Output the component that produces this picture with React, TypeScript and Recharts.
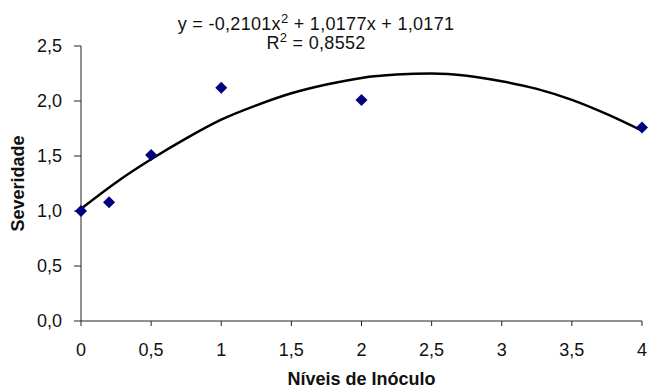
import React from 'react';
import { ComposedChart, Line, Scatter, XAxis, YAxis } from 'recharts';

const levels = [0, 0.2, 0.5, 1, 2, 4];
const severity = [1.0, 1.08, 1.51, 2.12, 2.01, 1.76];

// fitted curve, values
const curveX = [0, 0.25, 0.5, 0.75, 1, 1.25, 1.5, 1.75, 2, 2.25, 2.5, 2.75, 3, 3.25, 3.5, 3.75, 4];
const curveY = [1.02, 1.26, 1.47, 1.66, 1.83, 1.96, 2.07, 2.15, 2.21, 2.24, 2.25, 2.23, 2.18, 2.11, 2.01, 1.88, 1.73];

const xTicks = [0, 0.5, 1, 1.5, 2, 2.5, 3, 3.5, 4];
const yTicks = [0, 0.5, 1, 1.5, 2, 2.5];

const equationText = 'y = -0,2101x';
const equationRest = ' + 1,0177x + 1,0171';
const r2Value = '0,8552';

const FONT = '"Liberation Sans", Arial, sans-serif';

const points = levels.map((x, i) => ({ x, y: severity[i] }));
const curve = curveX.map((x, i) => ({ x, y: curveY[i] }));

const comma = (v: number) => String(v).replace('.', ',');

const Diamond = (props: any) => {
  const { cx, cy } = props;
  const r = 6;
  return (
    <polygon
      points={`${cx},${cy - r} ${cx + r},${cy} ${cx},${cy + r} ${cx - r},${cy}`}
      fill="#000080"
    />
  );
};

export default function App() {
  return (
    <div style={{ position: 'absolute', left: 0, top: 0, width: 648, height: 388, background: '#fff' }}>
      <ComposedChart
        width={648}
        height={388}
        margin={{ top: 46, right: 6, bottom: 0, left: 0 }}
        style={{ fontFamily: FONT }}
      >
        <XAxis
          dataKey="x"
          type="number"
          domain={[0, 4]}
          ticks={xTicks}
          tickFormatter={comma}
          height={67}
          stroke="#222"
          tickSize={5}
          tickMargin={17}
          tick={{ fill: '#111', fontSize: 18 }}
          label={{
            value: 'Níveis de Inóculo',
            position: 'insideBottom',
            offset: 3,
            style: { fontWeight: 'bold', fontSize: 18, fill: '#111' },
          }}
        />
        <YAxis
          type="number"
          domain={[0, 2.5]}
          ticks={yTicks}
          tickFormatter={(v: number) => v.toFixed(1).replace('.', ',')}
          width={81}
          stroke="#222"
          tickSize={7}
          tickMargin={12}
          tick={{ fill: '#111', fontSize: 18 }}
          label={{
            value: 'Severidade',
            angle: -90,
            position: 'insideLeft',
            offset: 18,
            style: { fontWeight: 'bold', fontSize: 18, fill: '#111', textAnchor: 'middle' },
          }}
        />
        <Line
          data={curve}
          dataKey="y"
          type="monotone"
          stroke="#000"
          strokeWidth={2.5}
          dot={false}
          activeDot={false}
          isAnimationActive={false}
        />
        <Scatter data={points} dataKey="y" shape={<Diamond />} isAnimationActive={false} />
      </ComposedChart>
      <div
        style={{
          position: 'absolute',
          left: 0,
          top: 15,
          width: 632,
          textAlign: 'center',
          fontFamily: FONT,
          fontSize: 18,
          lineHeight: '19px',
          letterSpacing: 0.3,
          color: '#111',
        }}
      >
        <div>
          {equationText}
          <span style={{ fontSize: 13, verticalAlign: 'super', lineHeight: 0 }}>2</span>
          {equationRest}
        </div>
        <div>
          R<span style={{ fontSize: 13, verticalAlign: 'super', lineHeight: 0 }}>2</span> = {r2Value}
        </div>
      </div>
    </div>
  );
}
